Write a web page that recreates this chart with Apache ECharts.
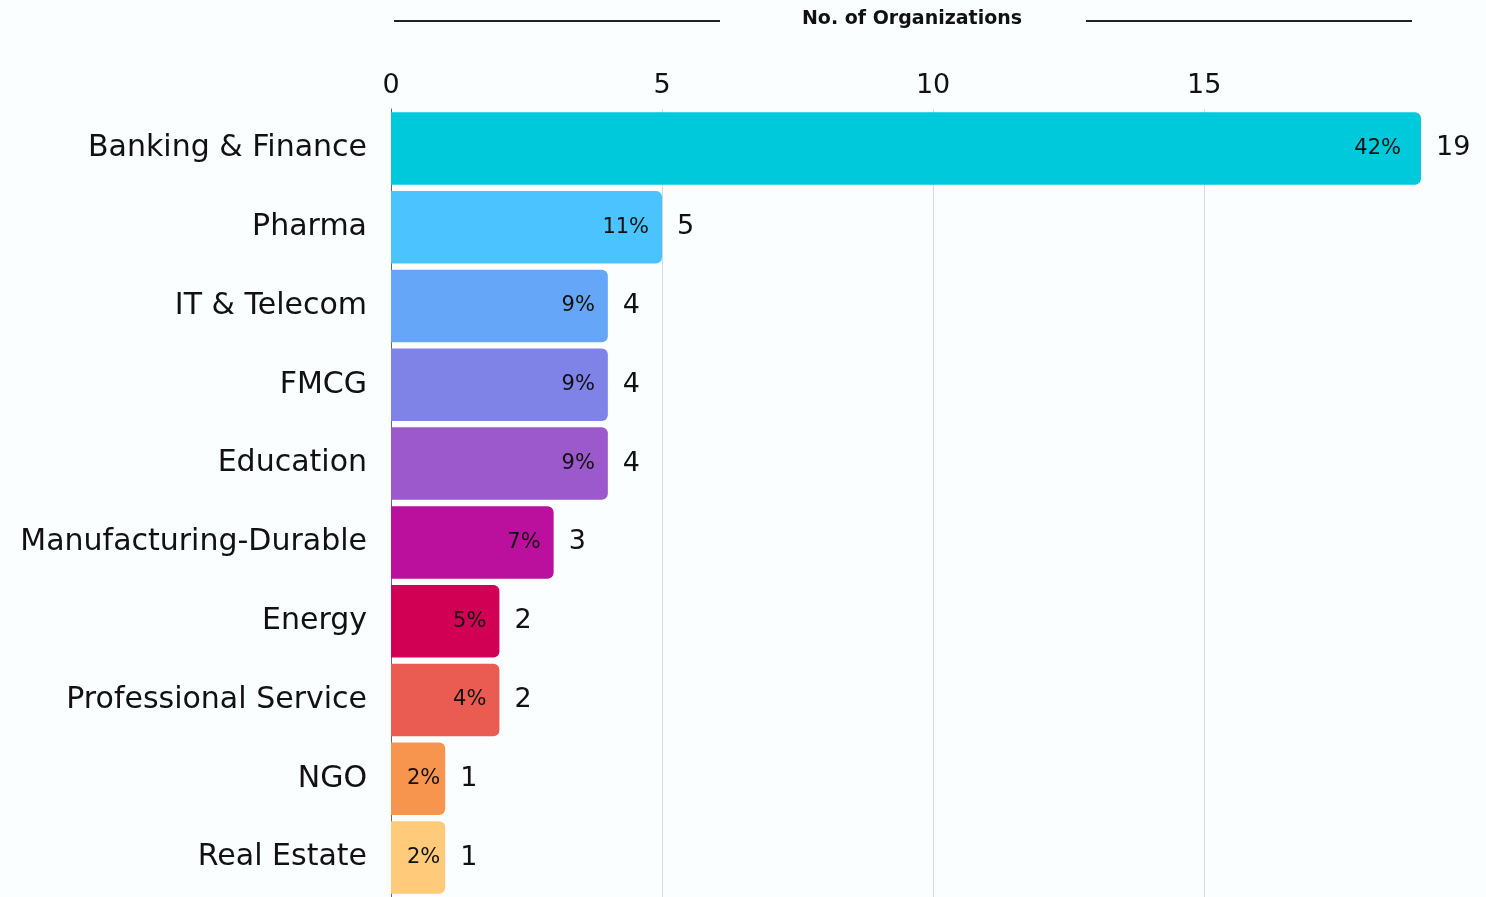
<!DOCTYPE html>
<html>
<head>
<meta charset="utf-8">
<title>No. of Organizations</title>
<script src="https://cdn.jsdelivr.net/npm/echarts@6/dist/echarts.min.js"></script>
<style>
  html, body { margin: 0; padding: 0; background: #fbfeff; }
  #chart { width: 1486px; height: 897px; }
</style>
</head>
<body>
<div id="chart"></div>
<script>
// data
const sectors = [
  "Banking & Finance", "Pharma", "IT & Telecom", "FMCG", "Education",
  "Manufacturing-Durable", "Energy", "Professional Service", "NGO", "Real Estate"
];
const orgCounts = [19, 5, 4, 4, 4, 3, 2, 2, 1, 1];
const shares = ["42%", "11%", "9%", "9%", "9%", "7%", "5%", "4%", "2%", "2%"];
const barColors = [
  "#00c9dc", "#4bc3ff", "#66a6f8", "#7f82e6", "#9b59cb",
  "#ba109d", "#d20055", "#ea5b52", "#f7954f", "#ffca7a"
];
const xTicks = [0, 5, 10, 15];

const FONT = "DejaVu Sans";

const chart = echarts.init(document.getElementById("chart"));

// small bars get their label pushed closer to the end
const innerDistance = (v) => (v > 10 ? 20 : v > 1 ? 13 : 5);

const option = {
  backgroundColor: "#fbfeff",
  animation: false,
  textStyle: { fontFamily: FONT },
  title: {
    text: "No. of Organizations",
    left: 907,
    textAlign: "center",
    top: 5,
    textStyle: { fontFamily: FONT, fontSize: 19, fontWeight: "bold", color: "#111" },
  },
  graphic: [
    { type: "line", shape: { x1: 394, y1: 21, x2: 720, y2: 21 }, style: { stroke: "#222", lineWidth: 2 } },
    { type: "line", shape: { x1: 1086, y1: 21, x2: 1412, y2: 21 }, style: { stroke: "#222", lineWidth: 2 } },
  ],
  grid: {
    left: 391,
    right: 65,
    top: 109,
    height: 794,
  },
  xAxis: {
    type: "value",
    position: "top",
    min: 0,
    max: 19,
    interval: 5,
    axisLine: { show: false },
    axisTick: { show: false },
    axisLabel: {
      margin: 10,
      fontSize: 27,
      color: "#111",
      fontFamily: FONT,
      formatter: (v) => (xTicks.includes(v) ? String(v) : ""),
    },
    splitLine: {
      show: true,
      showMaxLine: false,
      lineStyle: { color: "#d5dadd", width: 1 },
    },
  },
  yAxis: {
    type: "category",
    inverse: true,
    data: sectors,
    axisLine: { show: true, lineStyle: { color: "#666", width: 1 } },
    axisTick: { show: false },
    axisLabel: {
      margin: 24,
      fontSize: 30,
      color: "#111",
      fontFamily: FONT,
    },
  },
  series: [
    {
      name: "share",
      type: "bar",
      barCategoryGap: "8%",
      data: orgCounts.map((v, i) => ({
        value: v,
        itemStyle: { color: barColors[i], borderRadius: [0, 6, 6, 0] },
        label: { distance: innerDistance(v) },
      })),
      label: {
        show: true,
        position: "insideRight",
        fontSize: 21,
        color: "#111",
        fontFamily: FONT,
        formatter: (p) => shares[p.dataIndex],
      },
      z: 2,
    },
    {
      name: "count",
      type: "bar",
      barGap: "-100%",
      barCategoryGap: "8%",
      silent: true,
      data: orgCounts,
      itemStyle: { color: "rgba(0,0,0,0)" },
      label: {
        show: true,
        position: "right",
        distance: 15,
        fontSize: 27,
        color: "#111",
        fontFamily: FONT,
      },
      z: 3,
    },
  ],
};

chart.setOption(option);
</script>
</body>
</html>
